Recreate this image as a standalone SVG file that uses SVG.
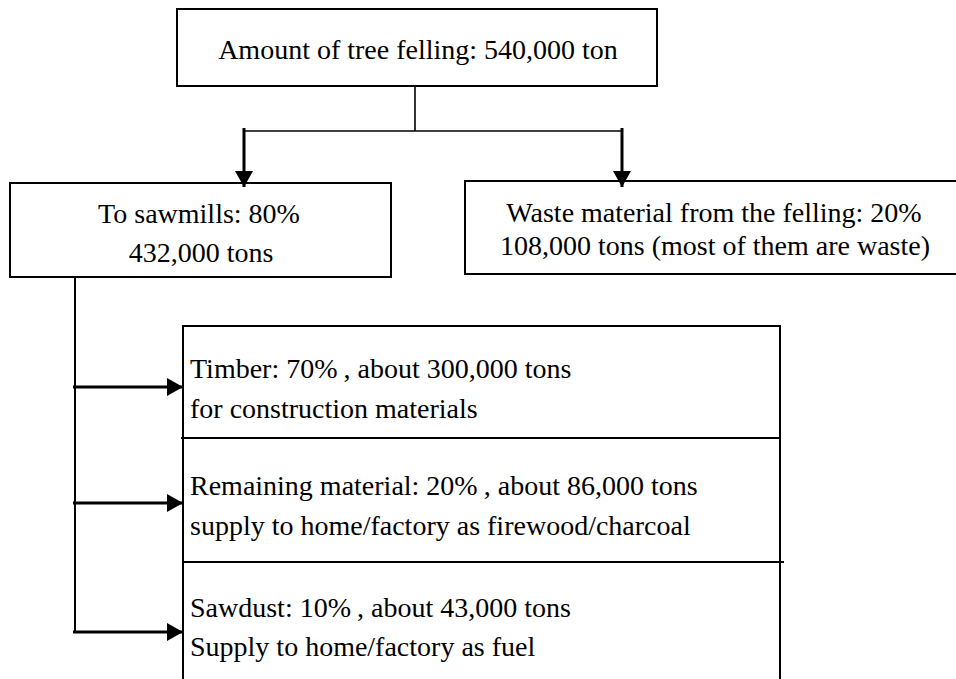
<svg xmlns="http://www.w3.org/2000/svg" width="956" height="679" viewBox="0 0 956 679">
  <style>
    .box { fill: #ffffff; stroke: #000000; stroke-width: 2; }
    .line { fill: none; stroke: #000000; stroke-width: 2; }
    .thin { fill: none; stroke: #000000; stroke-width: 1.6; }
    .arrow { fill: none; stroke: #000000; stroke-width: 3; }
    text { font-family: "Liberation Serif", "Times New Roman", serif; font-size: 28px; fill: #000000; }
    .c { text-anchor: middle; }
  </style>
  <defs>
    <marker id="ah" markerUnits="userSpaceOnUse" markerWidth="17" markerHeight="18" refX="16" refY="9" orient="auto">
      <path d="M0,0 L16,9 L0,18 z" fill="#000000"/>
    </marker>
  </defs>
  <rect width="956" height="679" fill="#ffffff"/>

  <g id="n-felling">
    <rect class="box" x="177" y="9" width="480" height="77"/>
    <text class="c" x="418" y="59">Amount of tree felling: 540,000 ton</text>
  </g>

  <g id="n-sawmills">
    <rect class="box" x="10" y="183" width="381" height="94"/>
    <text class="c" x="199" y="223">To sawmills: 80%</text>
    <text class="c" x="201" y="262">432,000 tons</text>
  </g>

  <g id="n-waste">
    <rect class="box" x="465" y="181" width="495" height="93"/>
    <text class="c" x="714" y="222">Waste material from the felling: 20%</text>
    <text class="c" x="715" y="255">108,000 tons (most of them are waste)</text>
  </g>

  <g id="n-products">
    <path class="line" d="M183,690 V326 H780 V690"/>
    <path class="line" d="M181,438 H780"/>
    <path class="line" d="M184,562 H784"/>
    <g id="n-timber">
      <text x="190" y="378">Timber: 70%<tspan dx="6">,</tspan> about 300,000 tons</text>
      <text x="190" y="418">for construction materials</text>
    </g>
    <g id="n-remaining">
      <text x="190" y="495">Remaining material: 20%<tspan dx="6">,</tspan> about 86,000 tons</text>
      <text x="190" y="535">supply to home/factory as firewood/charcoal</text>
    </g>
    <g id="n-sawdust">
      <text x="190" y="617">Sawdust: 10%<tspan dx="6">,</tspan> about 43,000 tons</text>
      <text x="190" y="656">Supply to home/factory as fuel</text>
    </g>
  </g>

  <g id="connectors">
    <path class="thin" d="M415,86 V131"/>
    <path class="thin" d="M244,131 H622"/>
    <line class="arrow" x1="244" y1="128" x2="244" y2="187" marker-end="url(#ah)"/>
    <line class="arrow" x1="622" y1="128" x2="622" y2="187" marker-end="url(#ah)"/>
    <path class="line" d="M75,277 V633"/>
    <line class="arrow" x1="73" y1="387" x2="183" y2="387" marker-end="url(#ah)"/>
    <line class="arrow" x1="73" y1="503" x2="183" y2="503" marker-end="url(#ah)"/>
    <line class="arrow" x1="73" y1="632" x2="183" y2="632" marker-end="url(#ah)"/>
  </g>
</svg>
